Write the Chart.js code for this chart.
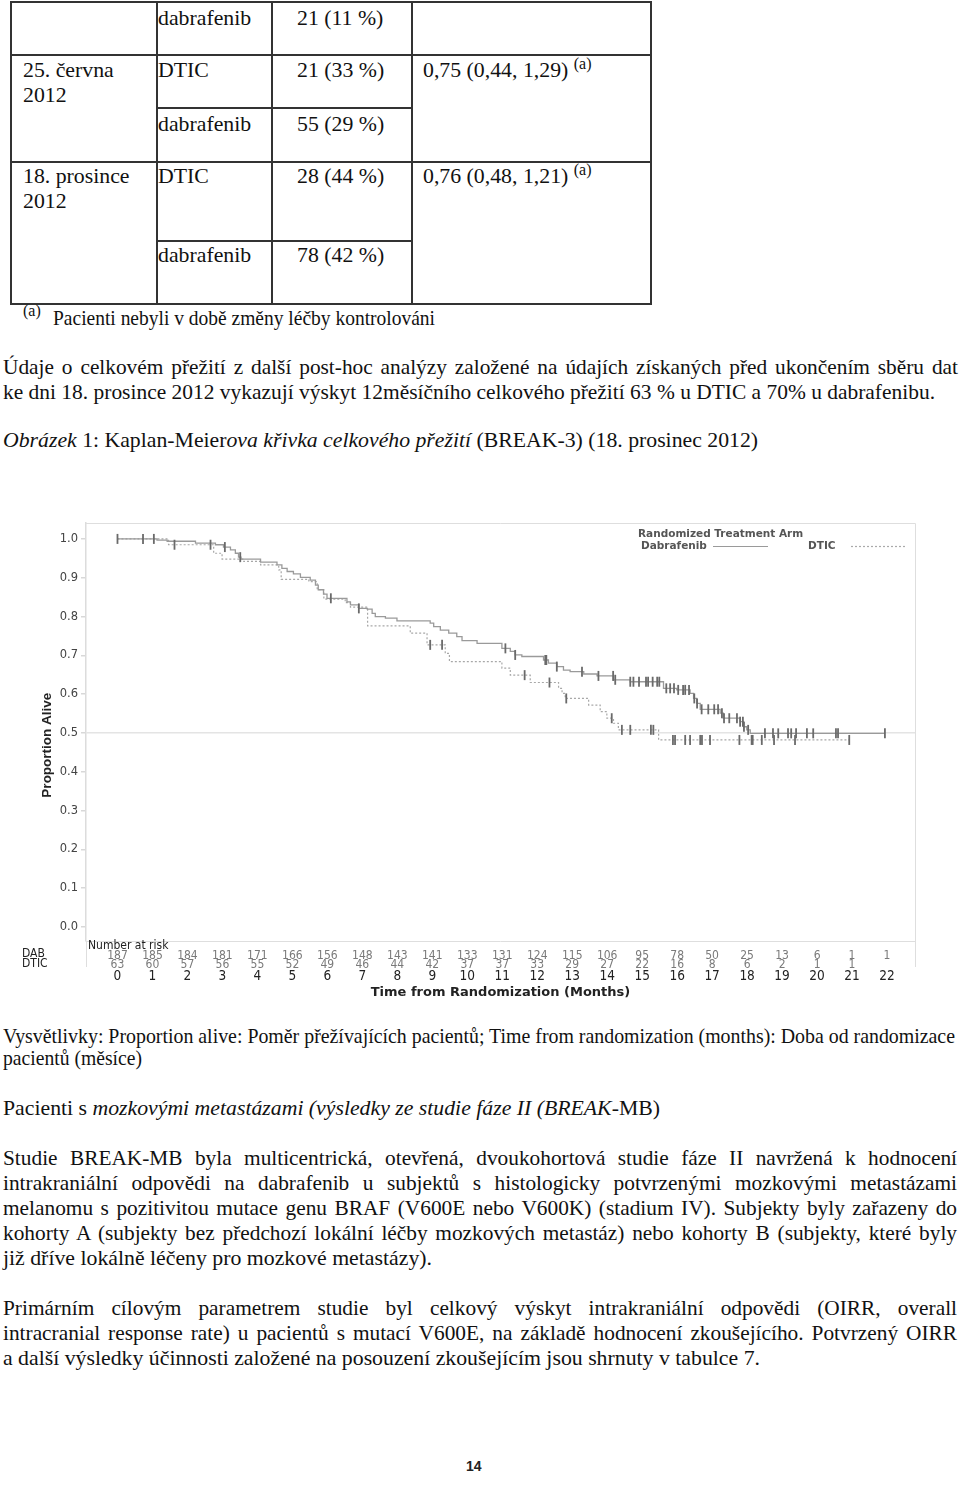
<!DOCTYPE html>
<html><head><meta charset="utf-8">
<script src="https://cdn.jsdelivr.net/npm/chart.js@4.4.1/dist/chart.umd.min.js"></script>
<style>
html,body{margin:0;padding:0;background:#fff;}
body{width:960px;height:1486px;position:relative;overflow:hidden;font-family:"Liberation Serif","Times New Roman",serif;color:#111;}
.ln{position:absolute;white-space:nowrap;font-size:20.6px;line-height:24px;transform-origin:0 50%;}
.tc{position:absolute;white-space:nowrap;font-size:21.8px;line-height:24px;}
.sup{font-size:16px;position:relative;top:-8px;}
.h{position:absolute;height:2px;background:#333;}
.v{position:absolute;width:2px;background:#333;}
#wrap{position:absolute;left:0;top:505px;width:960px;height:510px;}
.pn{position:absolute;left:466px;top:1458px;font-family:"Liberation Sans",Arial,sans-serif;font-size:14px;font-weight:bold;color:#222;}
</style></head>
<body>
<!-- table borders -->
<div class="h" style="left:11px;top:1px;width:641px"></div>
<div class="h" style="left:11px;top:54px;width:641px"></div>
<div class="h" style="left:157px;top:107px;width:256px"></div>
<div class="h" style="left:11px;top:161px;width:641px"></div>
<div class="h" style="left:157px;top:240px;width:256px"></div>
<div class="h" style="left:11px;top:303px;width:641px"></div>
<div class="v" style="left:10px;top:1px;height:304px"></div>
<div class="v" style="left:156px;top:1px;height:304px"></div>
<div class="v" style="left:271px;top:1px;height:304px"></div>
<div class="v" style="left:411px;top:1px;height:304px"></div>
<div class="v" style="left:650px;top:1px;height:304px"></div>
<!-- table text -->
<div class="tc" style="left:158px;top:6px">dabrafenib</div>
<div class="tc" style="left:297px;top:6px">21 (11 %)</div>
<div class="tc" style="left:23px;top:58px">25. června</div>
<div class="tc" style="left:23px;top:83px">2012</div>
<div class="tc" style="left:158px;top:58px">DTIC</div>
<div class="tc" style="left:297px;top:58px">21 (33 %)</div>
<div class="tc" style="left:423px;top:58px">0,75 (0,44, 1,29) <span class="sup">(a)</span></div>
<div class="tc" style="left:158px;top:112px">dabrafenib</div>
<div class="tc" style="left:297px;top:112px">55 (29 %)</div>
<div class="tc" style="left:23px;top:164px">18. prosince</div>
<div class="tc" style="left:23px;top:189px">2012</div>
<div class="tc" style="left:158px;top:164px">DTIC</div>
<div class="tc" style="left:297px;top:164px">28 (44 %)</div>
<div class="tc" style="left:423px;top:164px">0,76 (0,48, 1,21) <span class="sup">(a)</span></div>
<div class="tc" style="left:158px;top:243px">dabrafenib</div>
<div class="tc" style="left:297px;top:243px">78 (42 %)</div>
<div class="tc" style="left:23px;top:299px;font-size:16px">(a)</div>
<div class="ln" data-end="435" style="left:53px;top:306px">Pacienti nebyli v době změny léčby kontrolováni</div>

<div class="ln" data-end="958" data-j="1" style="left:3px;top:355px">Údaje o celkovém přežití z další post-hoc analýzy založené na údajích získaných před ukončením sběru dat</div>
<div class="ln" data-end="935" style="left:3px;top:380px">ke dni 18. prosince 2012 vykazují výskyt 12měsíčního celkového přežití 63 % u DTIC a 70% u dabrafenibu.</div>
<div class="ln" data-end="758" style="left:3px;top:428px"><i>Obrázek</i> 1: Kaplan-Meier<i>ova křivka celkového přežití</i> (BREAK-3) (18. prosinec 2012)</div>

<div id="wrap"><canvas id="km" width="960" height="510"></canvas></div>

<div class="ln" data-end="955" data-j="1" style="left:3px;top:1024px">Vysvětlivky: Proportion alive: Poměr přežívajících pacientů; Time from randomization (months): Doba od randomizace</div>
<div class="ln" data-end="142" style="left:3px;top:1046px">pacientů (měsíce)</div>
<div class="ln" data-end="660" style="left:3px;top:1096px">Pacienti s <i>mozkovými metastázami (výsledky ze studie fáze II (BREAK</i>-MB)</div>
<div class="ln" data-end="957" data-j="1" style="left:3px;top:1146px">Studie BREAK-MB byla multicentrická, otevřená, dvoukohortová studie fáze II navržená k hodnocení</div>
<div class="ln" data-end="957" data-j="1" style="left:3px;top:1171px">intrakraniální odpovědi na dabrafenib u subjektů s histologicky potvrzenými mozkovými metastázami</div>
<div class="ln" data-end="957" data-j="1" style="left:3px;top:1196px">melanomu s pozitivitou mutace genu BRAF (V600E nebo V600K) (stadium IV). Subjekty byly zařazeny do</div>
<div class="ln" data-end="957" data-j="1" style="left:3px;top:1221px">kohorty A (subjekty bez předchozí lokální léčby mozkových metastáz) nebo kohorty B (subjekty, které byly</div>
<div class="ln" data-end="432" style="left:3px;top:1246px">již dříve lokálně léčeny pro mozkové metastázy).</div>
<div class="ln" data-end="957" data-j="1" style="left:3px;top:1296px">Primárním cílovým parametrem studie byl celkový výskyt intrakraniální odpovědi (OIRR, overall</div>
<div class="ln" data-end="957" data-j="1" style="left:3px;top:1321px">intracranial response rate) u pacientů s mutací V600E, na základě hodnocení zkoušejícího. Potvrzený OIRR</div>
<div class="ln" data-end="760" style="left:3px;top:1346px">a další výsledky účinnosti založené na posouzení zkoušejícím jsou shrnuty v tabulce 7.</div>
<div class="pn">14</div>

<script>
// ---------- chart data ----------
const months = [0,1,2,3,4,5,6,7,8,9,10,11,12,13,14,15,16,17,18,19,20,21,22];
const riskDAB = [187,185,184,181,171,166,156,148,143,141,133,131,124,115,106,95,78,50,25,13,6,1,1];
const riskDTIC = [63,60,57,56,55,52,49,46,44,42,37,37,33,29,27,22,16,8,6,2,1,1,null];
const yTicks = [0,0.1,0.2,0.3,0.4,0.5,0.6,0.7,0.8,0.9,1.0];

const dabTime = [0,1.13,1.42,2.23,2.8,3.03,3.23,3.37,3.46,3.53,4.09,4.56,4.7,4.85,5.03,5.23,5.51,5.66,5.74,5.89,5.99,6.56,6.66,6.9,7.14,7.28,7.37,7.66,7.99,8.94,9.04,9.23,9.47,9.7,9.85,10.28,10.99,11.23,11.37,11.56,12.18,12.32,12.56,12.75,12.94,13.33,13.71,14.18,14.66,15.61,15.99,16.37,16.47,16.56,16.66,17.23,17.32,17.8,17.9,17.99,18.09,21.94];
const dabSurv = [1.0,0.997,0.994,0.989,0.985,0.979,0.972,0.963,0.953,0.948,0.94,0.933,0.924,0.916,0.91,0.901,0.894,0.881,0.869,0.858,0.847,0.838,0.83,0.821,0.819,0.808,0.80,0.796,0.789,0.783,0.774,0.765,0.757,0.748,0.738,0.731,0.718,0.71,0.701,0.697,0.688,0.68,0.671,0.662,0.658,0.652,0.647,0.637,0.632,0.615,0.611,0.602,0.589,0.576,0.561,0.551,0.538,0.529,0.516,0.508,0.499,0.499];
const dticTime = [0,1.46,2.75,2.99,3.61,4.09,4.61,4.68,5.47,5.71,5.9,6.51,6.66,7.15,8.37,8.85,9.37,9.49,10.99,11.23,11.8,12.61,12.71,12.8,13.47,13.8,13.99,14.18,14.32,15.47,20.94];
const dticSurv = [1.0,0.985,0.963,0.948,0.942,0.933,0.92,0.896,0.89,0.869,0.845,0.836,0.824,0.776,0.757,0.727,0.705,0.684,0.667,0.649,0.63,0.615,0.602,0.589,0.572,0.555,0.538,0.525,0.508,0.482,0.482];
const dabCensor = [0,0.73,1.04,3.07,3.51,6.1,6.9,11.09,11.37,12.23,12.26,12.56,13.28,13.75,14.17,14.23,14.66,14.75,14.91,15.11,15.17,15.3,15.43,15.49,15.69,15.8,15.91,16.03,16.17,16.23,16.34,16.49,16.57,16.7,16.89,17.06,17.17,17.28,17.34,17.49,17.71,17.8,17.88,17.91,18.03,18.51,18.74,18.89,19.17,19.26,19.4,19.71,19.89,20.54,20.6,21.94];
const dticCensor = [1.63,2.66,8.94,9.28,11.64,12.35,12.83,14.13,14.42,14.66,15.25,15.32,15.88,15.94,16.23,16.37,16.66,16.71,16.94,17.78,18.13,18.16,18.42,18.77,19.37,20.92];

// ---------- helpers ----------
function stepAt(times, surv, t){ let v = surv[0]; for(let i=0;i<times.length;i++){ if(times[i] <= t + 1e-9) v = surv[i]; } return v; }
const dabPts = dabTime.map((t,i)=>({x:t,y:dabSurv[i]}));
const dticPts = dticTime.map((t,i)=>({x:t,y:dticSurv[i]}));
const dabCens = dabCensor.map(t=>({x:t,y:stepAt(dabTime,dabSurv,t)}));
const dticCens = dticCensor.map(t=>({x:t,y:stepAt(dticTime,dticSurv,t)}));

const narrow = '"DejaVu Sans Condensed","Liberation Sans",sans-serif';

const decor = {
  id:'decor',
  beforeDatasetsDraw(chart){
    const {ctx, chartArea:a} = chart;
    ctx.save();
    ctx.strokeStyle = '#dedede'; ctx.lineWidth = 1;
    ctx.beginPath();
    ctx.moveTo(a.left, a.top+0.5); ctx.lineTo(a.right+0.5, a.top+0.5);
    ctx.lineTo(a.right+0.5, a.bottom+26);
    ctx.moveTo(a.left, a.bottom+0.5); ctx.lineTo(a.right, a.bottom+0.5);
    ctx.moveTo(a.left+0.5, a.bottom); ctx.lineTo(a.left+0.5, a.bottom+26);
    ctx.stroke();
    ctx.restore();
  },
  afterDraw(chart){
    const {ctx, chartArea:a, scales:{x}} = chart;
    ctx.save();
    // legend
    ctx.fillStyle = '#555';
    ctx.textBaseline = 'middle'; ctx.textAlign = 'left';
    ctx.font = 'bold 10.5px "DejaVu Sans", sans-serif';
    ctx.fillText('Randomized Treatment Arm', 638, 29);
    ctx.fillText('Dabrafenib', 641, 41);
    ctx.fillText('DTIC', 808, 41);
    ctx.strokeStyle = '#9a9a9a'; ctx.lineWidth = 1.2;
    ctx.beginPath(); ctx.moveTo(713, 41.5); ctx.lineTo(768, 41.5); ctx.stroke();
    ctx.strokeStyle = '#aaa'; ctx.setLineDash([2,2]);
    ctx.beginPath(); ctx.moveTo(851, 41.5); ctx.lineTo(907, 41.5); ctx.stroke();
    ctx.setLineDash([]);
    // number at risk
    ctx.fillStyle = '#222';
    ctx.font = '12px ' + narrow;
    ctx.fillText('Number at risk', a.left + 2, a.bottom + 5);
    ctx.fillText('DAB', 22, a.bottom + 12.5);
    ctx.fillText('DTIC', 22, a.bottom + 22.5);
    ctx.fillStyle = '#7a7a7a'; ctx.textAlign = 'center';
    months.forEach((m,i)=>{
      const px = x.getPixelForValue(m);
      if (riskDAB[i] != null) ctx.fillText(String(riskDAB[i]), px, a.bottom + 14.5);
      if (riskDTIC[i] != null) ctx.fillText(String(riskDTIC[i]), px, a.bottom + 23.5);
    });
    ctx.restore();
  }
};

new Chart(document.getElementById('km'), {
  type:'line',
  data:{ datasets:[
    {label:'Dabrafenib', data:dabPts, stepped:'before', borderColor:'#9a9a9a', borderWidth:1.3, pointRadius:0, fill:false, order:2},
    {label:'DTIC', data:dticPts, stepped:'before', borderColor:'#a8a8a8', borderWidth:1.2, borderDash:[2,2], pointRadius:0, fill:false, order:3},
    {type:'scatter', label:'DAB censored', data:dabCens, pointStyle:'line', rotation:90, pointRadius:5, borderColor:'#6a6a6a', pointBorderWidth:1.8, order:0},
    {type:'scatter', label:'DTIC censored', data:dticCens, pointStyle:'line', rotation:90, pointRadius:5, borderColor:'#6a6a6a', pointBorderWidth:1.8, order:1}
  ]},
  options:{
    responsive:false, animation:false, devicePixelRatio:1,
    layout:{padding:{left:0,right:45,top:18,bottom:0}},
    plugins:{legend:{display:false}, tooltip:{enabled:false}},
    scales:{
      x:{type:'linear', min:-0.9, max:22.8,
        afterBuildTicks:s=>{ s.ticks = months.map(v=>({value:v})); },
        afterFit:s=>{ s.height = 74; },
        grid:{display:false, drawTicks:false}, border:{display:false},
        ticks:{padding:27, color:'#222', font:{family:narrow, size:13.5}, maxRotation:0, autoSkip:false, callback:v=>String(v)},
        title:{display:true, text:'Time from Randomization (Months)', color:'#222', font:{family:'"DejaVu Sans",sans-serif', size:13, weight:'bold'}, padding:{top:0,bottom:15}}
      },
      y:{type:'linear', min:-0.036, max:1.041,
        afterBuildTicks:s=>{ s.ticks = yTicks.map(v=>({value:v})); },
        afterFit:s=>{ s.width = 86; },
        grid:{drawOnChartArea:true, color:c=> (c.tick && Math.abs(c.tick.value-0.5)<1e-6) ? '#e4e4e4' : 'rgba(0,0,0,0)', lineWidth:1.5, tickColor:'#d8d8d8', tickLength:5},
        border:{display:true, color:'#dcdcdc', width:1.5},
        ticks:{padding:3, color:'#444', font:{family:'"DejaVu Sans",sans-serif', size:11.5}, callback:v=>Number(v).toFixed(1)},
        title:{display:true, text:'Proportion Alive\u00a0\u00a0\u00a0\u00a0\u00a0\u00a0\u00a0', color:'#222', font:{family:'"Liberation Sans",Arial,sans-serif', size:13.5, weight:'bold'}, padding:{top:39,bottom:0}}
      }
    }
  },
  plugins:[decor]
});

// ---------- fit text lines to reference widths ----------
function fitLines(){
  const lines = Array.from(document.querySelectorAll('.ln'));
  const info = lines.map(el=>({el, target: parseFloat(el.dataset.end) - el.offsetLeft, w: el.getBoundingClientRect().width, j: !!el.dataset.j}));
  const free = info.filter(o=>!o.j && o.target > 300);
  const s = free.reduce((a,o)=>a + o.target/o.w, 0) / free.length;
  info.forEach(o=>{
    if (o.j) {
      const spaces = (o.el.textContent.match(/ /g)||[]).length;
      const extra = o.target/s - o.w;
      if (spaces && extra > 0) { o.el.style.wordSpacing = (extra/spaces) + 'px'; o.el.style.transform = 'scaleX(' + s + ')'; }
      else o.el.style.transform = 'scaleX(' + (o.target/o.w) + ')';
    } else {
      o.el.style.transform = 'scaleX(' + (o.target/o.w) + ')';
    }
  });
}
fitLines();
</script>
</body></html>
